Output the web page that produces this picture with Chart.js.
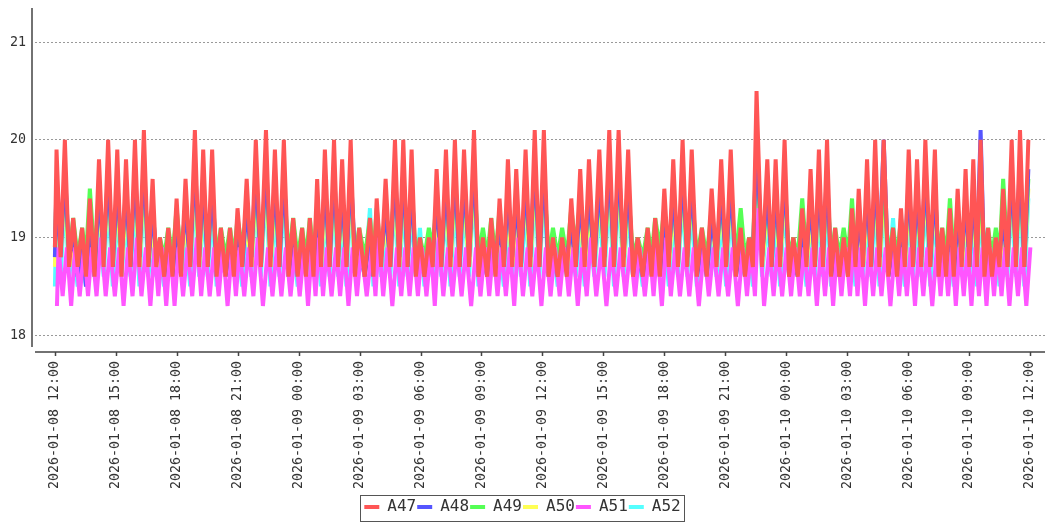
<!DOCTYPE html>
<html>
<head>
<meta charset="utf-8">
<title>A47-A52</title>
<script src="https://cdn.jsdelivr.net/npm/chart.js@4.4.1/dist/chart.umd.min.js"></script>
<style>
  html, body { margin: 0; padding: 0; background: #fff; }
  #chart { display: block; }
</style>
</head>
<body>
<canvas id="chart" width="1047" height="525"></canvas>
<script>
// Sample times, hours after 2026-01-08 12:00 (start, then peak/trough of each cycle)
const TIME_H = [0.00,
  0.08, 0.28, 0.49, 0.70, 0.90, 1.12, 1.34, 1.53, 1.72, 1.95, 2.17, 2.40, 2.62, 2.85, 3.07, 3.28, 3.50, 3.72, 3.94, 4.16, 4.38, 4.60,
  4.81, 4.99, 5.17, 5.38, 5.58, 5.79, 5.99, 6.21, 6.43, 6.66, 6.89, 7.10, 7.30, 7.52, 7.74, 7.96, 8.17, 8.40, 8.62, 8.81, 8.99, 9.22, 9.44, 9.67, 9.89, 10.14,
  10.39, 10.61, 10.83, 11.05, 11.27, 11.50, 11.73, 11.95, 12.17, 12.36, 12.55, 12.73, 12.91, 13.10, 13.29, 13.52, 13.74, 13.94, 14.14, 14.35, 14.56, 14.77, 14.98, 15.25,
  15.51, 15.68, 15.84, 16.06, 16.28, 16.51, 16.74, 16.95, 17.15, 17.36, 17.56, 17.77, 17.97, 18.19, 18.41, 18.60, 18.79, 19.02, 19.25, 19.47, 19.69, 19.92, 20.14, 20.39, 20.63, 20.85,
  21.07, 21.28, 21.48, 21.69, 21.89, 22.10, 22.30, 22.51, 22.71, 22.94, 23.17, 23.40, 23.62, 23.85, 24.07, 24.30, 24.52, 24.75, 24.97, 25.20, 25.42, 25.64, 25.86, 26.08, 26.29, 26.55,
  26.80, 27.05, 27.29, 27.52, 27.75, 27.99, 28.22, 28.46, 28.69, 28.94, 29.18, 29.37, 29.55, 29.78, 30.00, 30.22, 30.44, 30.67, 30.90, 31.13, 31.35, 31.60, 31.85, 32.09,
  32.33, 32.57, 32.80, 33.04, 33.27, 33.52, 33.76, 33.97, 34.17, 34.36, 34.54, 34.81, 35.07, 35.28, 35.48, 35.70, 35.92, 36.14, 36.35, 36.57, 36.79, 37.00, 37.20, 37.41, 37.61, 37.81,
  38.01, 38.21, 38.41, 38.62, 38.83, 39.04, 39.24, 39.41, 39.57, 39.78, 39.98, 40.18, 40.38, 40.59, 40.80, 41.03, 41.26, 41.46, 41.65, 41.84, 42.03, 42.24, 42.44, 42.65, 42.85, 43.09,
  43.32, 43.50, 43.68, 43.87, 44.06, 44.25, 44.44, 44.64, 44.83, 45.02, 45.21, 45.39, 45.57, 45.76, 45.94, 46.13, 46.32, 46.50, 46.68, 46.89, 47.10, 47.31, 47.51, 47.72, 47.92
];

// A51 reacts a few minutes after the others
const A51_LAG_H = 0.1;

const A47 = [18.9,
  19.9, 18.8, 20.0, 18.7, 19.2, 18.7, 19.1, 18.6, 19.4, 18.6, 19.8, 18.7, 20.0, 18.7, 19.9, 18.6, 19.8, 18.7, 20.0, 18.7, 20.1, 18.7,
  19.6, 18.7, 19.0, 18.6, 19.1, 18.6, 19.4, 18.6, 19.6, 18.7, 20.1, 18.7, 19.9, 18.7, 19.9, 18.6, 19.1, 18.6, 19.1, 18.6, 19.3, 18.7, 19.6, 18.7, 20.0, 18.7,
  20.1, 18.7, 19.9, 18.7, 20.0, 18.6, 19.2, 18.6, 19.1, 18.6, 19.2, 18.6, 19.6, 18.7, 19.9, 18.7, 20.0, 18.7, 19.8, 18.7, 20.0, 18.6, 19.1, 18.6,
  19.2, 18.6, 19.4, 18.7, 19.6, 18.7, 20.0, 18.7, 20.0, 18.7, 19.9, 18.6, 19.0, 18.6, 19.0, 18.7, 19.7, 18.7, 19.9, 18.7, 20.0, 18.7, 19.9, 18.7, 20.1, 18.6,
  19.0, 18.6, 19.2, 18.6, 19.4, 18.7, 19.8, 18.7, 19.7, 18.7, 19.9, 18.7, 20.1, 18.7, 20.1, 18.6, 19.0, 18.6, 19.0, 18.6, 19.4, 18.7, 19.7, 18.7, 19.8, 18.7,
  19.9, 18.7, 20.1, 18.7, 20.1, 18.7, 19.9, 18.6, 19.0, 18.6, 19.1, 18.6, 19.2, 18.6, 19.5, 18.7, 19.8, 18.7, 20.0, 18.7, 19.9, 18.6, 19.1, 18.6,
  19.5, 18.7, 19.8, 18.7, 19.9, 18.6, 19.1, 18.6, 19.0, 18.7, 20.5, 18.7, 19.8, 18.7, 19.8, 18.7, 20.0, 18.6, 19.0, 18.6, 19.3, 18.7, 19.7, 18.7, 19.9, 18.7,
  20.0, 18.6, 19.1, 18.6, 19.0, 18.6, 19.3, 18.7, 19.5, 18.7, 19.8, 18.7, 20.0, 18.7, 20.0, 18.6, 19.1, 18.6, 19.3, 18.7, 19.9, 18.7, 19.8, 18.7, 20.0, 18.7,
  19.9, 18.6, 19.1, 18.6, 19.3, 18.6, 19.5, 18.7, 19.7, 18.7, 19.8, 18.7, 20.0, 18.6, 19.1, 18.6, 19.0, 18.7, 19.5, 18.7, 20.0, 18.7, 20.1, 18.7, 20.0
];

const A48 = [18.8,
  19.6, 18.8, 19.7, 18.8, 19.0, 18.6, 18.9, 18.5, 19.1, 18.6, 19.5, 18.8, 19.7, 18.7, 19.6, 18.8, 19.5, 18.7, 19.7, 18.8, 19.8, 18.7,
  19.3, 18.8, 18.9, 18.6, 18.9, 18.6, 19.1, 18.8, 19.3, 18.7, 19.8, 18.8, 19.6, 18.7, 19.6, 18.6, 18.9, 18.6, 18.9, 18.8, 19.0, 18.7, 19.3, 18.8, 19.7, 18.7,
  19.8, 18.8, 19.6, 18.7, 19.7, 18.6, 19.0, 18.6, 18.9, 18.8, 19.0, 18.6, 19.3, 18.8, 19.6, 18.7, 19.7, 18.8, 19.5, 18.7, 19.7, 18.8, 18.9, 18.6,
  19.0, 18.6, 19.1, 18.8, 19.3, 18.7, 19.7, 18.8, 19.7, 18.7, 19.6, 18.6, 18.8, 18.6, 18.8, 18.8, 19.4, 18.7, 19.6, 18.8, 19.7, 18.7, 19.6, 18.8, 19.8, 18.6,
  18.8, 18.6, 19.0, 18.8, 19.1, 18.7, 19.5, 18.8, 19.4, 18.7, 19.6, 18.8, 19.8, 18.7, 19.8, 18.6, 18.8, 18.6, 18.8, 18.8, 19.1, 18.7, 19.4, 18.8, 19.5, 18.7,
  19.6, 18.8, 19.8, 18.7, 19.8, 18.8, 19.6, 18.6, 18.8, 18.6, 18.9, 18.8, 19.0, 18.6, 19.2, 18.8, 19.5, 18.7, 19.7, 18.8, 19.6, 18.6, 18.9, 18.6,
  19.2, 18.8, 19.5, 18.7, 19.6, 18.6, 18.9, 18.6, 18.8, 18.8, 20.0, 18.8, 19.5, 18.7, 19.5, 18.8, 19.7, 18.6, 18.8, 18.6, 19.0, 18.8, 19.4, 18.7, 19.6, 18.8,
  19.7, 18.6, 18.9, 18.6, 18.8, 18.8, 19.0, 18.7, 19.2, 18.8, 19.5, 18.7, 19.7, 18.8, 20.0, 18.6, 18.9, 18.6, 19.0, 18.8, 19.6, 18.7, 19.5, 18.8, 19.7, 18.7,
  19.6, 18.6, 18.9, 18.8, 19.0, 18.6, 19.2, 18.8, 19.4, 18.7, 19.5, 18.8, 20.1, 18.6, 18.9, 18.6, 18.8, 18.8, 19.2, 18.7, 19.7, 18.8, 19.8, 18.7, 19.7
];

const A49 = [18.9,
  19.5, 18.9, 19.6, 18.8, 19.2, 18.8, 19.1, 18.8, 19.5, 18.8, 19.4, 18.9, 19.6, 18.8, 19.5, 18.8, 19.4, 18.9, 19.6, 18.8, 19.7, 18.8,
  19.3, 18.8, 19.0, 18.8, 19.1, 18.8, 19.3, 18.8, 19.3, 18.9, 19.7, 18.8, 19.5, 18.8, 19.5, 18.8, 19.1, 18.8, 19.1, 18.8, 19.2, 18.9, 19.3, 18.8, 19.6, 18.8,
  19.7, 18.8, 19.5, 18.8, 19.6, 18.8, 19.2, 18.8, 19.1, 18.8, 19.2, 18.8, 19.3, 18.9, 19.5, 18.8, 19.6, 18.8, 19.4, 18.8, 19.6, 18.8, 19.1, 18.8,
  19.2, 18.8, 19.3, 18.8, 19.3, 18.9, 19.6, 18.8, 19.6, 18.8, 19.5, 18.8, 19.0, 18.8, 19.1, 18.9, 19.4, 18.8, 19.5, 18.8, 19.6, 18.8, 19.5, 18.8, 19.7, 18.8,
  19.1, 18.8, 19.2, 18.8, 19.3, 18.8, 19.4, 18.9, 19.4, 18.8, 19.5, 18.8, 19.7, 18.8, 19.7, 18.8, 19.1, 18.8, 19.1, 18.8, 19.3, 18.9, 19.4, 18.8, 19.4, 18.8,
  19.5, 18.8, 19.7, 18.8, 19.7, 18.8, 19.5, 18.8, 19.0, 18.8, 19.1, 18.8, 19.2, 18.9, 19.3, 18.8, 19.4, 18.8, 19.6, 18.8, 19.5, 18.8, 19.1, 18.8,
  19.3, 18.8, 19.4, 18.8, 19.5, 18.8, 19.3, 18.8, 19.0, 18.9, 19.9, 18.8, 19.4, 18.8, 19.4, 18.8, 19.6, 18.8, 19.0, 18.8, 19.4, 18.8, 19.4, 18.9, 19.5, 18.8,
  19.6, 18.8, 19.1, 18.8, 19.1, 18.8, 19.4, 18.8, 19.3, 18.9, 19.4, 18.8, 19.6, 18.8, 19.6, 18.8, 19.1, 18.8, 19.2, 18.8, 19.5, 18.9, 19.4, 18.8, 19.6, 18.8,
  19.5, 18.8, 19.1, 18.8, 19.4, 18.8, 19.3, 18.8, 19.4, 18.9, 19.4, 18.8, 19.6, 18.8, 19.1, 18.8, 19.1, 18.8, 19.6, 18.8, 19.6, 18.8, 19.7, 18.8, 19.6
];

const A50 = [18.7,
  19.4, 18.8, 19.5, 18.7, 18.9, 18.7, 18.9, 18.7, 19.1, 18.7, 19.3, 18.8, 19.5, 18.7, 19.4, 18.7, 19.3, 18.8, 19.5, 18.7, 19.6, 18.7,
  19.1, 18.7, 18.9, 18.7, 18.9, 18.7, 19.0, 18.8, 19.1, 18.7, 19.6, 18.7, 19.4, 18.8, 19.4, 18.7, 18.9, 18.7, 18.9, 18.7, 19.0, 18.8, 19.1, 18.7, 19.5, 18.7,
  19.6, 18.7, 19.4, 18.8, 19.5, 18.7, 18.9, 18.7, 18.9, 18.7, 18.9, 18.8, 19.1, 18.7, 19.4, 18.7, 19.5, 18.8, 19.3, 18.7, 19.5, 18.7, 18.9, 18.7,
  18.9, 18.7, 19.0, 18.8, 19.1, 18.7, 19.5, 18.7, 19.5, 18.8, 19.4, 18.7, 18.9, 18.7, 18.9, 18.8, 19.2, 18.7, 19.4, 18.7, 19.5, 18.8, 19.4, 18.7, 19.6, 18.7,
  18.9, 18.7, 18.9, 18.8, 19.0, 18.7, 19.3, 18.7, 19.2, 18.8, 19.4, 18.7, 19.6, 18.7, 19.6, 18.8, 18.9, 18.7, 18.9, 18.7, 19.0, 18.8, 19.2, 18.7, 19.3, 18.7,
  19.4, 18.8, 19.6, 18.7, 19.6, 18.7, 19.4, 18.8, 18.9, 18.7, 18.9, 18.7, 18.9, 18.8, 19.1, 18.7, 19.3, 18.7, 19.5, 18.8, 19.4, 18.7, 18.9, 18.7,
  19.1, 18.8, 19.3, 18.7, 19.4, 18.7, 18.9, 18.8, 18.9, 18.7, 19.8, 18.7, 19.3, 18.8, 19.3, 18.7, 19.5, 18.7, 18.9, 18.8, 19.0, 18.7, 19.2, 18.7, 19.4, 18.8,
  19.5, 18.7, 18.9, 18.7, 18.9, 18.8, 19.0, 18.7, 19.1, 18.7, 19.3, 18.8, 19.5, 18.7, 19.5, 18.7, 18.9, 18.8, 19.0, 18.7, 19.4, 18.7, 19.3, 18.8, 19.5, 18.7,
  19.4, 18.7, 18.9, 18.8, 19.0, 18.7, 19.1, 18.7, 19.2, 18.8, 19.3, 18.7, 19.5, 18.7, 18.9, 18.8, 18.9, 18.7, 19.1, 18.7, 19.5, 18.8, 19.6, 18.7, 19.5
];

const A51 = [18.3,
  18.9, 18.4, 18.9, 18.3, 18.9, 18.4, 18.9, 18.4, 18.9, 18.4, 19.0, 18.4, 18.9, 18.4, 18.9, 18.3, 18.9, 18.4, 19.0, 18.4, 18.9, 18.3,
  18.9, 18.4, 18.9, 18.3, 18.9, 18.3, 18.9, 18.4, 18.9, 18.4, 19.0, 18.4, 18.9, 18.4, 18.9, 18.4, 18.9, 18.3, 18.9, 18.4, 18.9, 18.4, 18.9, 18.4, 19.0, 18.3,
  18.9, 18.4, 18.9, 18.4, 18.9, 18.4, 18.9, 18.4, 18.9, 18.3, 18.9, 18.4, 19.0, 18.4, 18.9, 18.4, 18.9, 18.4, 18.9, 18.3, 18.9, 18.4, 18.9, 18.4,
  18.9, 18.4, 19.0, 18.4, 18.9, 18.3, 18.9, 18.4, 18.9, 18.4, 18.9, 18.4, 18.9, 18.4, 18.9, 18.3, 19.0, 18.4, 18.9, 18.4, 18.9, 18.4, 18.9, 18.3, 18.9, 18.4,
  18.9, 18.4, 18.9, 18.4, 18.9, 18.4, 18.9, 18.3, 19.0, 18.4, 18.9, 18.4, 18.9, 18.3, 18.9, 18.4, 18.9, 18.4, 18.9, 18.4, 18.9, 18.3, 18.9, 18.4, 19.0, 18.4,
  18.9, 18.3, 18.9, 18.4, 18.9, 18.4, 18.9, 18.4, 18.9, 18.4, 18.9, 18.4, 18.9, 18.3, 19.0, 18.4, 18.9, 18.4, 18.9, 18.4, 18.9, 18.3, 18.9, 18.4,
  18.9, 18.4, 18.9, 18.4, 18.9, 18.3, 18.9, 18.4, 18.9, 18.4, 19.3, 18.3, 18.9, 18.4, 18.9, 18.4, 18.9, 18.4, 18.9, 18.4, 18.9, 18.4, 18.9, 18.3, 18.9, 18.4,
  18.9, 18.3, 18.9, 18.4, 18.9, 18.4, 19.0, 18.4, 18.9, 18.3, 18.9, 18.4, 18.9, 18.4, 18.9, 18.3, 18.9, 18.4, 18.9, 18.4, 18.9, 18.3, 18.9, 18.4, 18.9, 18.3,
  18.9, 18.4, 18.9, 18.4, 18.9, 18.3, 18.9, 18.4, 18.9, 18.3, 18.9, 18.4, 18.9, 18.3, 18.9, 18.4, 18.9, 18.4, 18.9, 18.3, 18.9, 18.4, 18.9, 18.3, 18.9
];

const A52 = [18.5,
  19.3, 18.6, 19.4, 18.6, 18.9, 18.5, 18.9, 18.5, 19.0, 18.6, 19.2, 18.6, 19.4, 18.5, 19.3, 18.6, 19.2, 18.6, 19.4, 18.5, 19.5, 18.6,
  19.0, 18.6, 18.8, 18.5, 18.9, 18.6, 19.0, 18.6, 19.0, 18.5, 19.5, 18.6, 19.3, 18.6, 19.3, 18.5, 18.9, 18.6, 18.9, 18.6, 18.9, 18.5, 19.0, 18.6, 19.4, 18.6,
  19.5, 18.5, 19.3, 18.6, 19.4, 18.6, 18.9, 18.5, 18.9, 18.6, 18.9, 18.6, 19.0, 18.5, 19.3, 18.6, 19.4, 18.6, 19.2, 18.5, 19.4, 18.6, 19.0, 18.6,
  19.3, 18.5, 18.9, 18.6, 19.0, 18.6, 19.4, 18.5, 19.4, 18.6, 19.3, 18.6, 19.1, 18.5, 18.9, 18.6, 19.1, 18.6, 19.3, 18.5, 19.4, 18.6, 19.3, 18.6, 19.5, 18.5,
  18.9, 18.6, 18.9, 18.6, 18.9, 18.5, 19.2, 18.6, 19.1, 18.6, 19.3, 18.5, 19.5, 18.6, 19.5, 18.6, 18.9, 18.5, 18.9, 18.6, 18.9, 18.6, 19.1, 18.5, 19.2, 18.6,
  19.3, 18.6, 19.5, 18.5, 19.5, 18.6, 19.3, 18.6, 18.9, 18.5, 18.9, 18.6, 18.9, 18.6, 19.0, 18.5, 19.2, 18.6, 19.4, 18.6, 19.3, 18.5, 18.9, 18.6,
  19.0, 18.6, 19.2, 18.5, 19.3, 18.6, 18.9, 18.6, 18.9, 18.5, 19.6, 18.6, 19.2, 18.6, 19.2, 18.5, 19.4, 18.6, 18.9, 18.6, 18.9, 18.5, 19.1, 18.6, 19.3, 18.6,
  19.4, 18.5, 18.9, 18.6, 18.9, 18.6, 18.9, 18.5, 19.0, 18.6, 19.2, 18.6, 19.4, 18.5, 19.4, 18.6, 19.2, 18.6, 18.9, 18.5, 19.3, 18.6, 19.2, 18.6, 19.4, 18.5,
  19.3, 18.6, 18.9, 18.6, 18.9, 18.5, 19.0, 18.6, 19.1, 18.6, 19.2, 18.5, 19.4, 18.6, 18.9, 18.6, 18.9, 18.5, 19.0, 18.6, 19.4, 18.6, 19.5, 18.5, 19.4
];

const SERIES_NAMES = ['A47', 'A48', 'A49', 'A50', 'A51', 'A52'];
const SERIES_VALUES = [A47, A48, A49, A50, A51, A52];
const SERIES_LAG_H = [0, 0, 0, 0, A51_LAG_H, 0];
const SERIES_COLORS = ['#ff5555', '#5555ff', '#55ff55', '#ffff55', '#ff55ff', '#55ffff'];
// drawing order: lower number ends up on top
const SERIES_ORDER = [0, 2, 3, 4, 1, 5];

// x axis: hours from this moment, one label every 3 hours
const START = new Date(2026, 0, 8, 12, 0);
const X_MIN = -0.98;
const X_MAX = 48.74;
const Y_MIN = 17.88;
const Y_MAX = 21.35;

function pad2(n) {
    return String(n).padStart(2, '0');
}

function formatHour(h) {
    const d = new Date(START.getTime() + Math.round(h * 60) * 60000);
    return `${d.getFullYear()}-${pad2(d.getMonth() + 1)}-${pad2(d.getDate())} ${pad2(d.getHours())}:${pad2(d.getMinutes())}`;
}

// Build datasets from the arrays
const datasets = SERIES_NAMES.map((name, s) => ({
    label: name,
    data: TIME_H.map((t, i) => ({ x: t + SERIES_LAG_H[s], y: SERIES_VALUES[s][i] })),
    order: SERIES_ORDER[s],
    borderColor: SERIES_COLORS[s],
    backgroundColor: SERIES_COLORS[s],
    borderWidth: 4,
    borderJoinStyle: 'bevel',
    pointRadius: 0,
    pointHoverRadius: 0,
    tension: 0,
    fill: false
}));

// Axis lines offset from the plot, tick marks and the legend frame
const frames = {
    id: 'frames',
    afterDraw(chart) {
        const { ctx, chartArea: a } = chart;
        const xs = chart.scales.x;
        ctx.save();
        ctx.strokeStyle = '#444';
        ctx.lineWidth = 1.5;
        ctx.beginPath();
        ctx.moveTo(a.left - 3, a.top);
        ctx.lineTo(a.left - 3, a.bottom);
        ctx.moveTo(a.left, a.bottom + 5);
        ctx.lineTo(a.right, a.bottom + 5);
        xs.ticks.forEach((t, i) => {
            const px = Math.round(xs.getPixelForTick(i)) + 0.5;
            ctx.moveTo(px, a.bottom + 5);
            ctx.lineTo(px, a.bottom + 9);
        });
        ctx.stroke();

        const boxes = chart.legend.legendHitBoxes;
        if (boxes && boxes.length) {
            const lefts = boxes.map(b => b.left);
            const rights = boxes.map(b => b.left + b.width);
            const l = Math.min(...lefts);
            const r = Math.max(...rights);
            ctx.strokeStyle = '#555';
            ctx.lineWidth = 1;
            ctx.strokeRect(Math.round(l - 4) + 0.5, Math.round(boxes[0].top - 4) + 0.5,
                Math.round(r - l + 8), Math.round(boxes[0].height + 10));
        }
        ctx.restore();
    }
};

const chart = new Chart(document.getElementById('chart'), {
    type: 'line',
    data: { datasets },
    plugins: [frames],
    options: {
        responsive: false,
        animation: false,
        devicePixelRatio: 1,
        layout: { padding: { top: 8, right: 2, bottom: 0, left: 0 } },
        plugins: {
            legend: {
                position: 'bottom',
                labels: {
                    usePointStyle: true,
                    pointStyle: 'line',
                    pointStyleWidth: 15,
                    padding: 1,
                    color: '#333',
                    font: { family: 'DejaVu Sans Mono', size: 16 },
                    sort: (a, b) => a.datasetIndex - b.datasetIndex
                }
            },
            tooltip: { enabled: false }
        },
        scales: {
            x: {
                type: 'linear',
                min: X_MIN,
                max: X_MAX,
                grid: { display: false, drawTicks: false },
                border: { display: false },
                ticks: {
                    stepSize: 3,
                    autoSkip: false,
                    includeBounds: false,
                    minRotation: 90,
                    maxRotation: 90,
                    padding: 14,
                    color: '#333',
                    font: { family: 'DejaVu Sans Mono', size: 13.3 },
                    callback: (v) => formatHour(v)
                },
                afterFit(scale) {
                    const legendH = scale.chart.legend ? scale.chart.legend.height : 30;
                    scale.height = 525 - 347 - legendH;
                    scale.paddingLeft = 0;
                    scale.paddingRight = 0;
                }
            },
            y: {
                min: Y_MIN,
                max: Y_MAX,
                grid: { color: '#999', lineWidth: 1, drawTicks: false },
                border: { display: false, dash: [2, 2] },
                ticks: {
                    stepSize: 1,
                    includeBounds: false,
                    padding: 9,
                    color: '#333',
                    font: { family: 'DejaVu Sans Mono', size: 13.3 },
                    callback: (v) => String(v)
                },
                afterFit(scale) {
                    scale.width = 35;
                    scale.paddingTop = 0;
                    scale.paddingBottom = 0;
                }
            }
        }
    }
});
</script>
</body>
</html>
